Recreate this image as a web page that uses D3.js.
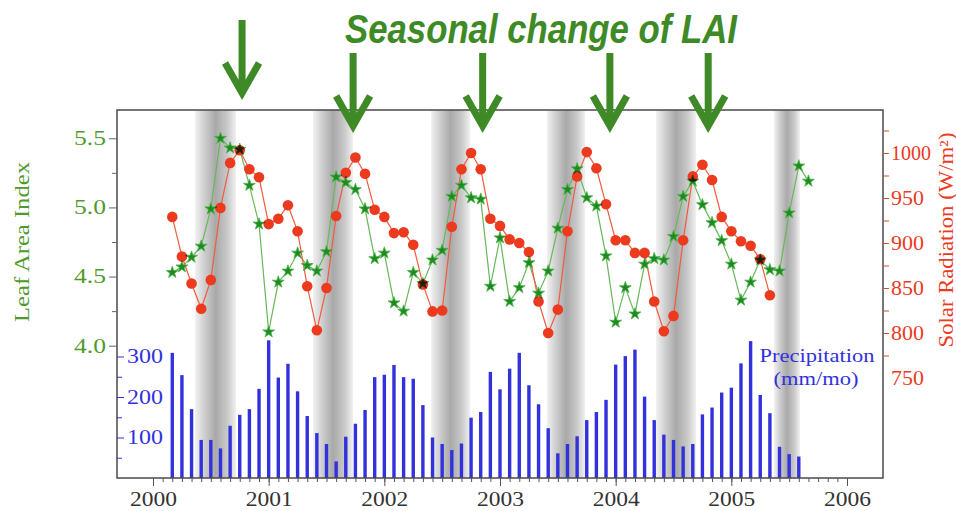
<!DOCTYPE html>
<html>
<head>
<meta charset="utf-8">
<script src="https://cdn.jsdelivr.net/npm/d3@7"></script>
<style>
  html, body { margin: 0; padding: 0; background: #fff; }
  svg { display: block; }
</style>
</head>
<body>
<svg id="chart" width="956" height="511"></svg>
<script>
// ---- Data: monthly series, first month = March 2000 ----
const firstMonth = 2000 + 2 / 12;

// Leaf Area Index (green stars)
const lai = [4.53, 4.57, 4.64, 4.72, 4.99, 5.50, 5.43, 5.42, 5.16, 4.88,
             4.10, 4.46, 4.54, 4.67, 4.58, 4.54, 4.68, 5.22, 5.18, 5.13,
             4.99, 4.63, 4.67, 4.31, 4.25, 4.53, 4.45, 4.62, 4.69, 5.08,
             5.16, 5.07, 5.06, 4.43, 4.78, 4.32, 4.42, 4.60, 4.38, 4.54,
             4.85, 5.13, 5.28, 5.07, 5.01, 4.65, 4.17, 4.42, 4.23, 4.59,
             4.63, 4.62, 4.79, 5.08, 5.19, 5.02, 4.89, 4.76, 4.59, 4.33,
             4.46, 4.62, 4.55, 4.54, 4.96, 5.30, 5.19];

// Solar radiation, W/m2 (red circles)
const solar = [929, 885, 855, 827, 859, 939, 989, 1003, 982, 973,
               921, 927, 942, 913, 852, 803, 850, 930, 978, 995,
               977, 937, 929, 911, 912, 898, 854, 824, 825, 918,
               982, 1000, 982, 927, 919, 904, 900, 890, 835, 800,
               826, 913, 974, 1001, 983, 943, 903, 903, 889, 889,
               835, 802, 819, 903, 974, 987, 970, 929, 913, 902,
               897, 882, 842];

// Precipitation, mm/month (blue bars)
const precip = [309, 254, 170, 94, 94, 73, 129, 156, 170, 220,
                340, 248, 282, 214, 153, 111, 84, 41, 102, 134,
                168, 249, 255, 279, 249, 245, 180, 100, 84, 69,
                85, 149, 163, 262, 219, 270, 309, 229, 182, 123,
                61, 84, 103, 143, 163, 193, 280, 301, 317, 201,
                143, 107, 94, 78, 84, 157, 174, 211, 223, 283,
                338, 205, 160, 77, 59, 53];

// Dry seasons (decimal years)
const dryStart = [2000.363, 2001.383, 2002.403, 2003.406, 2004.349, 2005.368];
const dryEnd   = [2000.718, 2001.729, 2002.741, 2003.735, 2004.695, 2005.593];

// Seasonal LAI maxima marked with arrows (decimal years)
const peakDates = [2000.77, 2001.73, 2002.85, 2003.95, 2004.80];

// Axis ticks
const yearTicks = [2000, 2001, 2002, 2003, 2004, 2005, 2006];
const laiTicks = [4.0, 4.5, 5.0, 5.5];
const laiMinor = [4.25, 4.75, 5.25];
const precipTicks = [100, 200, 300];
const precipMinor = [50, 150, 250];
const solarTicks = [750, 800, 850, 900, 950, 1000];
const solarMarks = [775, 800, 825, 850, 875, 900, 925, 950, 975, 1000, 1025];

// ---- Layout ----
const frame = { left: 117, right: 883, top: 110, bottom: 478 };
const serif = "'Liberation Serif', 'Times New Roman', serif";
const green = "#3e8a26";
const laiText = "#4f9a2c";
const blue = "#3232dc";
const red = "#ec3a1e";

const svg = d3.select("#chart");

const x = d3.scaleLinear().domain([2000, 2006]).range([153, 847]);
const yLai = d3.scaleLinear().domain([4.0, 5.5]).range([345.7, 138.3]);
const ySol = d3.scaleLinear().domain([750, 1000]).range([378, 153]);
const yPre = d3.scaleLinear().domain([0, 300]).range([478, 356.5]);

const monthX = i => x(firstMonth + i / 12);

// Shaded band gradient
const defs = svg.append("defs");
const grad = defs.append("linearGradient").attr("id", "dryGrad")
  .attr("x1", "0").attr("x2", "1").attr("y1", "0").attr("y2", "0");
[[0, "#f2f2f2"], [0.22, "#d0d0d0"], [0.5, "#a9a9a9"], [0.78, "#c8c8c8"], [1, "#f0f0f0"]]
  .forEach(([o, c]) => grad.append("stop").attr("offset", o).attr("stop-color", c));

// Dry-season bands
svg.append("g").selectAll("rect")
  .data(d3.zip(dryStart, dryEnd))
  .join("rect")
  .attr("x", d => x(d[0]))
  .attr("width", d => x(d[1]) - x(d[0]))
  .attr("y", frame.top)
  .attr("height", frame.bottom - frame.top)
  .attr("fill", "url(#dryGrad)");

// Precipitation bars
const barW = 3.4;
svg.append("g").selectAll("rect")
  .data(precip)
  .join("rect")
  .attr("x", (d, i) => monthX(i) - barW / 2)
  .attr("width", barW)
  .attr("y", d => yPre(d))
  .attr("height", d => yPre(0) - yPre(d))
  .attr("fill", blue);

// Series lines
const laiLine = d3.line().x((d, i) => monthX(i)).y(d => yLai(d));
const solLine = d3.line().x((d, i) => monthX(i)).y(d => ySol(d));
svg.append("path").attr("d", laiLine(lai)).attr("fill", "none")
  .attr("stroke", "#66b858").attr("stroke-width", 1.2);
svg.append("path").attr("d", solLine(solar)).attr("fill", "none")
  .attr("stroke", "#f25a3c").attr("stroke-width", 1.2);

// Markers (overlapping markers darken each other)
const marks = svg.append("g").style("isolation", "isolate");
marks.append("g").selectAll("path")
  .data(lai)
  .join("path")
  .attr("transform", (d, i) => `translate(${monthX(i)},${yLai(d)})`)
  .attr("d", d3.symbol(d3.symbolStar, 44))
  .attr("fill", "#1f8a1f")
  .attr("stroke", "#49b449")
  .attr("stroke-width", 0.8);
marks.append("g").style("mix-blend-mode", "multiply").selectAll("circle")
  .data(solar)
  .join("circle")
  .attr("cx", (d, i) => monthX(i))
  .attr("cy", d => ySol(d))
  .attr("r", 5.3)
  .attr("fill", red);

// Frame
svg.append("rect")
  .attr("x", frame.left).attr("y", frame.top)
  .attr("width", frame.right - frame.left)
  .attr("height", frame.bottom - frame.top)
  .attr("fill", "none").attr("stroke", "#4a4a4a").attr("stroke-width", 1.5);

// Bottom axis (years + monthly minor ticks)
const xMinor = d3.range(0, 73).map(m => 2000 + m / 12);
svg.append("g").attr("transform", `translate(0,${frame.bottom})`)
  .call(d3.axisBottom(x).tickValues(xMinor).tickSize(4).tickFormat(""))
  .call(g => g.select(".domain").remove())
  .call(g => g.selectAll("line").attr("stroke", "#555"));
svg.append("g").attr("transform", `translate(0,${frame.bottom})`)
  .call(d3.axisBottom(x).tickValues(yearTicks).tickSize(8).tickPadding(6).tickFormat(d3.format("d")))
  .call(g => g.select(".domain").remove())
  .call(g => g.selectAll("line").attr("stroke", "#555"))
  .call(g => g.selectAll("text").attr("font-family", serif).attr("font-size", 20)
    .attr("fill", "#333").attr("textLength", 47).attr("lengthAdjust", "spacingAndGlyphs"));

// Left axis: Leaf Area Index
svg.append("g").attr("transform", `translate(${frame.left},0)`)
  .call(d3.axisLeft(yLai).tickValues(laiMinor).tickSize(5).tickFormat(""))
  .call(g => g.select(".domain").remove())
  .call(g => g.selectAll("line").attr("stroke", "#666"));
svg.append("g").attr("transform", `translate(${frame.left},0)`)
  .call(d3.axisLeft(yLai).tickValues(laiTicks).tickSize(8).tickPadding(3).tickFormat(d3.format(".1f")))
  .call(g => g.select(".domain").remove())
  .call(g => g.selectAll("line").attr("stroke", "#666"))
  .call(g => g.selectAll("text").attr("font-family", serif).attr("font-size", 20)
    .attr("fill", laiText).attr("textLength", 32).attr("lengthAdjust", "spacingAndGlyphs"));

svg.append("text")
  .attr("transform", "translate(29,242) rotate(-90)")
  .attr("text-anchor", "middle")
  .attr("font-family", serif).attr("font-size", 21)
  .attr("fill", laiText)
  .attr("textLength", 160).attr("lengthAdjust", "spacingAndGlyphs")
  .text("Leaf Area Index");

// Inner left axis: precipitation
svg.append("g").attr("transform", `translate(${frame.left},0)`)
  .call(d3.axisRight(yPre).tickValues(precipMinor).tickSize(5).tickFormat(""))
  .call(g => g.select(".domain").remove())
  .call(g => g.selectAll("line").attr("stroke", blue));
svg.append("g").attr("transform", `translate(${frame.left},0)`)
  .call(d3.axisRight(yPre).tickValues(precipTicks).tickSize(7).tickPadding(3).tickFormat(d3.format("d")))
  .call(g => g.select(".domain").remove())
  .call(g => g.selectAll("line").attr("stroke", blue))
  .call(g => g.selectAll("text").attr("font-family", serif).attr("font-size", 20)
    .attr("fill", blue).attr("textLength", 36).attr("lengthAdjust", "spacingAndGlyphs"));

svg.append("g")
  .attr("font-family", serif).attr("font-size", 18).attr("fill", blue)
  .attr("text-anchor", "middle")
  .call(g => g.append("text").attr("x", 817).attr("y", 362)
    .attr("textLength", 115).attr("lengthAdjust", "spacingAndGlyphs").text("Precipitation"))
  .call(g => g.append("text").attr("x", 816).attr("y", 385)
    .attr("textLength", 85).attr("lengthAdjust", "spacingAndGlyphs").text("(mm/mo)"));

// Right axis: solar radiation
svg.append("g").attr("transform", `translate(${frame.right},0)`)
  .call(d3.axisRight(ySol).tickValues(solarMarks).tickSize(6).tickFormat(""))
  .call(g => g.select(".domain").remove())
  .call(g => g.selectAll("line").attr("stroke", "#d0502f"));
svg.append("g").attr("transform", `translate(${frame.right},0)`)
  .call(d3.axisRight(ySol).tickValues(solarTicks).tickSize(0).tickPadding(8).tickFormat(d3.format("d")))
  .call(g => g.select(".domain").remove())
  .call(g => g.selectAll("text").attr("font-family", serif).attr("font-size", 20)
    .attr("fill", red).attr("textLength", d => d >= 1000 ? 40 : 33)
    .attr("lengthAdjust", "spacingAndGlyphs"));

svg.append("text")
  .attr("transform", "translate(953,240) rotate(-90)")
  .attr("text-anchor", "middle")
  .attr("font-family", serif).attr("font-size", 20)
  .attr("fill", red)
  .attr("textLength", 215).attr("lengthAdjust", "spacingAndGlyphs")
  .text("Solar Radiation (W/m²)");

// Title
svg.append("text")
  .attr("x", 345).attr("y", 43)
  .attr("font-family", "'Liberation Sans Narrow', 'Arial Narrow', 'Liberation Sans', Arial, sans-serif")
  .attr("font-size", 40).attr("font-weight", "bold").attr("font-style", "italic")
  .attr("fill", green)
  .attr("textLength", 392).attr("lengthAdjust", "spacingAndGlyphs")
  .text("Seasonal change of LAI");

// Peak arrows
const arrowTop = (d, i) => i === 0 ? 20 : 53;
const arrowTip = (d, i) => i === 0 ? 98 : 131;
const arrows = svg.append("g").attr("stroke", green).attr("stroke-width", 7)
  .attr("fill", "none").attr("stroke-linejoin", "miter");
arrows.selectAll("path")
  .data(peakDates)
  .join("path")
  .attr("d", (d, i) => {
    const cx = x(d), t = arrowTop(d, i), b = arrowTip(d, i) - 5;
    return `M${cx},${t}V${b}M${cx - 17},${b - 30}L${cx},${b}L${cx + 17},${b - 30}`;
  });
</script>
</body>
</html>
